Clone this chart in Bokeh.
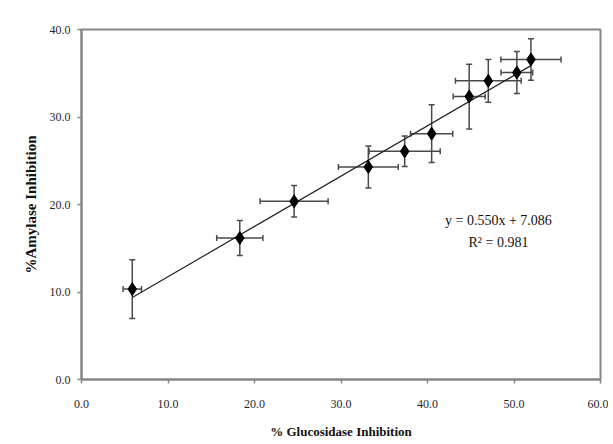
import numpy as np
from bokeh.plotting import figure
from bokeh.models import ColumnDataSource, Whisker, TeeHead, Label, PrintfTickFormatter, FixedTicker, Range1d
from bokeh.embed import file_html
from bokeh.resources import INLINE

# Data
glucosidase = [5.87, 18.3, 24.58, 33.16, 37.36, 40.48, 44.82, 47.03, 50.33, 51.96]
glucosidase_err = [1.06, 2.67, 3.93, 3.46, 4.11, 2.44, 1.85, 3.8, 1.83, 3.48]
amylase = [10.33, 16.17, 20.36, 24.29, 26.08, 28.1, 32.34, 34.13, 35.08, 36.57]
amylase_err = [3.35, 2.0, 1.8, 2.4, 1.75, 3.3, 3.7, 2.45, 2.4, 2.36]
equation_text = "y = 0.550x + 7.086"
r2_text = "R² = 0.981"
x_ticks = [0, 10, 20, 30, 40, 50, 60]
y_ticks = [0, 10, 20, 30, 40]

gx = np.array(glucosidase)
ay = np.array(amylase)
gxe = np.array(glucosidase_err)
aye = np.array(amylase_err)

src = ColumnDataSource(dict(
    x=gx, y=ay,
    xl=gx - gxe, xu=gx + gxe,
    yl=ay - aye, yu=ay + aye,
))

FONT = "Liberation Serif"

p = figure(width=608, height=444, output_backend="svg", toolbar_location=None,
           x_range=Range1d(0, 60), y_range=Range1d(0, 40),
           min_border_left=81, min_border_right=8, min_border_top=29, min_border_bottom=65)
p.xgrid.visible = False
p.ygrid.visible = False
p.outline_line_color = "#868686"
p.outline_line_width = 2
p.background_fill_color = "white"
p.border_fill_color = "white"

for ax in (p.xaxis[0], p.yaxis[0]):
    ax.axis_line_color = "#868686"
    ax.axis_line_width = 2
    ax.major_tick_line_color = "#868686"
    ax.major_tick_line_width = 1.5
    ax.major_tick_out = 4
    ax.major_tick_in = 0
    ax.minor_tick_line_color = None
    ax.major_label_text_font = FONT
    ax.major_label_text_font_size = "12px"
    ax.major_label_text_color = "#1f1f2f"
    ax.axis_label_text_font = FONT
    ax.axis_label_text_font_style = "bold"
    ax.axis_label_text_color = "#111111"
    ax.formatter = PrintfTickFormatter(format="%.1f")

p.xaxis.ticker = FixedTicker(ticks=x_ticks)
p.yaxis.ticker = FixedTicker(ticks=y_ticks)
p.xaxis.axis_label = "% Glucosidase Inhibition"
p.yaxis.axis_label = "%Amylase Inhibition"
p.xaxis.axis_label_text_font_size = "13px"
p.yaxis.axis_label_text_font_size = "15px"
p.xaxis.major_label_standoff = 16
p.xaxis.axis_label_standoff = 13
p.yaxis.major_label_standoff = 7
p.yaxis.axis_label_standoff = 8

# trendline (least squares fit of the data)
slope, intercept = np.polyfit(gx, ay, 1)
tx = np.array([gx.min(), gx.max()])
p.line(tx, slope * tx + intercept, line_color="#222222", line_width=1.2)

# error bars
ecol = "#4a4a4a"
wy = Whisker(source=src, base="x", upper="yu", lower="yl", dimension="height",
             line_color=ecol, line_width=1.5,
             upper_head=TeeHead(size=6, line_color=ecol, line_width=1.5),
             lower_head=TeeHead(size=6, line_color=ecol, line_width=1.5))
wx = Whisker(source=src, base="y", upper="xu", lower="xl", dimension="width",
             line_color=ecol, line_width=1.5,
             upper_head=TeeHead(size=6, line_color=ecol, line_width=1.5),
             lower_head=TeeHead(size=6, line_color=ecol, line_width=1.5))
p.add_layout(wy)
p.add_layout(wx)

p.scatter("x", "y", source=src, marker="diamond", size=13, fill_color="black", line_color="black")

p.add_layout(Label(x=48.2, y=18.2, text=equation_text, text_align="center", text_baseline="middle",
                   text_font=FONT, text_font_size="14px", text_color="#111111"))
p.add_layout(Label(x=48.2, y=15.7, text=r2_text, text_align="center", text_baseline="middle",
                   text_font=FONT, text_font_size="14px", text_color="#111111"))

open("out.html", "w").write(file_html(p, INLINE))
